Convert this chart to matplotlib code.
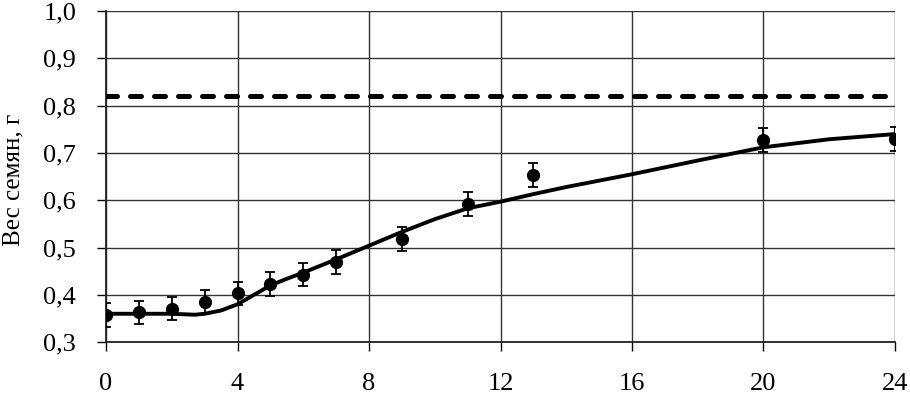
import matplotlib
matplotlib.use("Agg")
import matplotlib.pyplot as plt
from matplotlib.ticker import FuncFormatter

# данные: точки с погрешностью
x_pts = [0, 1, 2, 3, 4, 5, 6, 7, 9, 11, 13, 20, 24]
y_pts = [0.358, 0.363, 0.371, 0.385, 0.403, 0.423, 0.443, 0.470, 0.518, 0.592, 0.653, 0.728, 0.729]
y_err = [0.025, 0.025, 0.025, 0.025, 0.025, 0.025, 0.025, 0.025, 0.025, 0.025, 0.025, 0.025, 0.025]

# сглаженная кривая
x_fit = [0, 1, 2, 2.7, 3, 3.5, 4, 4.5, 5, 5.5, 6, 7, 8, 9, 10, 11, 12, 13, 14, 16, 18, 20, 22, 24]
y_fit = [0.360, 0.360, 0.360, 0.358, 0.360, 0.367, 0.380, 0.400, 0.420, 0.434, 0.447, 0.475, 0.504,
         0.533, 0.560, 0.583, 0.597, 0.613, 0.628, 0.655, 0.684, 0.712, 0.729, 0.740]

# уровень (пунктир)
x_level = [0, 24]
y_level = [0.82, 0.82]

x_ticks = [0, 4, 8, 12, 16, 20, 24]
y_ticks = [0.3, 0.4, 0.5, 0.6, 0.7, 0.8, 0.9, 1.0]

plt.rcParams["font.family"] = ["Liberation Serif", "DejaVu Serif"]

fig = plt.figure(figsize=(9.1, 3.96), dpi=100)
ax = fig.add_axes([0.1165, 0.136, 0.867, 0.836])

ax.plot(x_level, y_level, color="black", lw=3.6, dashes=(2.2, 2.6),
        dash_capstyle="round", zorder=3)
ax.plot(x_fit, y_fit, color="black", lw=2.8, zorder=4)
ax.errorbar(x_pts, y_pts, yerr=y_err, fmt="o", color="black", ms=8.5,
            elinewidth=1.3, capsize=3.6, capthick=1.3, zorder=5)

ax.set_xlim(0, 24)
ax.set_ylim(0.3, 1.0)
ax.set_xticks(x_ticks)
ax.set_yticks(y_ticks)
ax.yaxis.set_major_formatter(FuncFormatter(lambda v, p: f"{v:.1f}".replace(".", ",")))
ax.grid(True, color="#333333", lw=1.0)
ax.set_axisbelow(True)
for s in ("top", "right"):
    ax.spines[s].set_visible(False)
for s in ("left", "bottom"):
    ax.spines[s].set_linewidth(1.3)
    ax.spines[s].set_color("#222222")

ax.tick_params(axis="both", direction="out", length=6.5, width=1.0, labelsize=19)
ax.tick_params(axis="y", pad=15)
ax.tick_params(axis="x", pad=16)
ax.set_ylabel("Вес семян, г", fontsize=18)
ax.yaxis.set_label_coords(-0.103, 0.49)

fig.savefig("out.png", dpi=100)
